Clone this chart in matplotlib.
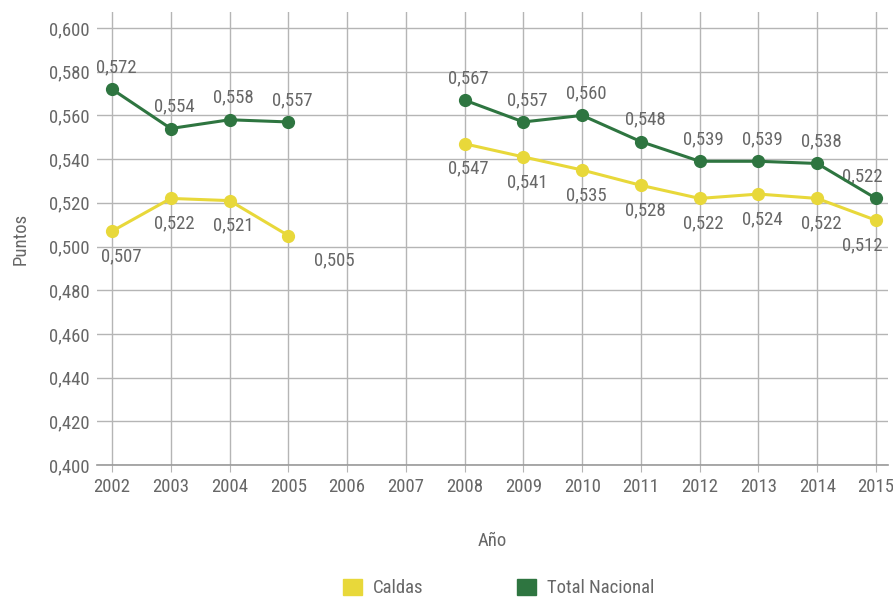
import matplotlib.pyplot as plt
from matplotlib.patches import Patch
from matplotlib import font_manager
import numpy as np

# Data
years = [2002, 2003, 2004, 2005, 2006, 2007, 2008, 2009, 2010, 2011, 2012, 2013, 2014, 2015]
caldas = [0.507, 0.522, 0.521, 0.505, np.nan, np.nan, 0.547, 0.541, 0.535, 0.528, 0.522, 0.524, 0.522, 0.512]
total = [0.572, 0.554, 0.558, 0.557, np.nan, np.nan, 0.567, 0.557, 0.560, 0.548, 0.539, 0.539, 0.538, 0.522]
yticks = [0.400, 0.420, 0.440, 0.460, 0.480, 0.500, 0.520, 0.540, 0.560, 0.580, 0.600]

names = {f.name for f in font_manager.fontManager.ttflist}
fam = 'Roboto Condensed' if 'Roboto Condensed' in names else 'Roboto'
plt.rcParams['font.family'] = [fam, 'DejaVu Sans']

text_col = '#676767'
grid_col = '#b5b5b5'
yellow = '#e8d83a'
green = '#2e7540'
fs = 13.5

fig = plt.figure(figsize=(8.93, 5.99), dpi=100)
ax = fig.add_axes([97 / 893, 1 - 465 / 599, (888 - 97) / 893, (465 - 12) / 599])

ax.plot(years, caldas, color=yellow, lw=2.2, marker='o', ms=8.5, zorder=3)
ax.plot(years, total, color=green, lw=2.2, marker='o', ms=8.5, zorder=4)

def fmt(v):
    return f"{v:.3f}".replace('.', ',')

for yr, v in zip(years, total):
    if np.isnan(v):
        continue
    dx = -14 if yr == 2015 else 4
    ax.annotate(fmt(v), (yr, v), xytext=(dx, 22), textcoords='offset pixels',
                ha='center', va='center', fontsize=fs, color=text_col)

for yr, v in zip(years, caldas):
    if np.isnan(v):
        continue
    dx, dy = 4, -25
    if yr == 2002:
        dx = 9
    if yr == 2005:
        dx = 46
    if yr == 2015:
        dx = -14
    ax.annotate(fmt(v), (yr, v), xytext=(dx, dy), textcoords='offset pixels',
                ha='center', va='center', fontsize=fs, color=text_col)

ax.set_xlim(2002 - 15 / 58.77, 2015 + 12 / 58.77)
ax.set_ylim(0.400, 0.600 + 16 / 43.7 * 0.02)
ax.set_xticks(years)
ax.set_xticklabels([str(y) for y in years])
ax.set_yticks(yticks)
ax.set_yticklabels([fmt(v) for v in yticks])

ax.grid(True, color=grid_col, lw=1)
ax.set_axisbelow(True)
for s in ['top', 'right', 'left']:
    ax.spines[s].set_visible(False)
ax.spines['bottom'].set_color('#999999')
ax.spines['bottom'].set_linewidth(1.2)
ax.tick_params(axis='both', colors=grid_col, labelcolor=text_col, labelsize=fs)
ax.tick_params(axis='y', length=0, pad=5)
ax.tick_params(axis='x', length=5, pad=4)

ax.set_xlabel('Año', fontsize=fs, color=text_col, labelpad=26)
ax.set_ylabel('Puntos', fontsize=fs, color=text_col, labelpad=14)

handles = [Patch(color=yellow, label='Caldas'), Patch(color=green, label='Total Nacional')]
fig.legend(handles=handles, loc='center', bbox_to_anchor=(499 / 893, 1 - 588 / 599), ncol=2,
           frameon=False, fontsize=fs, labelcolor=text_col, handlelength=1.0, handleheight=1.0,
           columnspacing=5.0, handletextpad=0.6, borderpad=0)

fig.savefig('out.png', dpi=100)
